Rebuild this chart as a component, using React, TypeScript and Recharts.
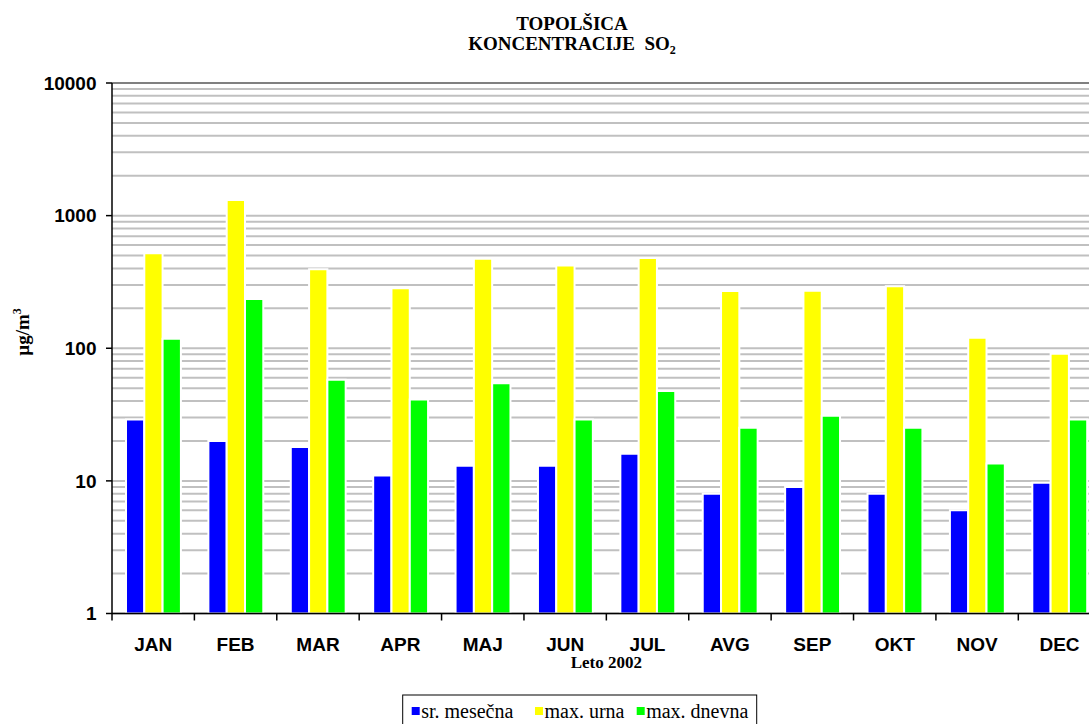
import React from 'react';
import { BarChart, Bar, XAxis, YAxis, CartesianGrid, ReferenceLine } from 'recharts';

const months = ['JAN', 'FEB', 'MAR', 'APR', 'MAJ', 'JUN', 'JUL', 'AVG', 'SEP', 'OKT', 'NOV', 'DEC'];
const srMesecna = [29, 20, 18, 11, 13, 13, 16, 8, 9, 8, 6, 9.7];
const maxUrna = [520, 1310, 394, 283, 472, 420, 480, 270, 271, 293, 120, 91];
const maxDnevna = [118, 235, 58, 41, 54.5, 29, 47.6, 25.2, 31, 25.2, 13.5, 29];

const seriesNames = ['sr. mesečna', 'max. urna', 'max. dnevna'];
const seriesKeys = ['sr', 'urna', 'dnevna'];
const seriesColors = ['#0000ff', '#ffff00', '#00ff00'];

const yTickLabels = ['1', '10', '100', '1000', '10000'];
const gridValues = [
  1, 2, 3, 4, 5, 6, 7, 8, 9,
  10, 20, 30, 40, 50, 60, 70, 80, 90,
  100, 200, 300, 400, 500, 600, 700, 800, 900,
  1000, 2000, 3000, 4000, 5000, 6000, 7000, 8000, 9000,
  10000,
];

const titleLine1 = 'TOPOLŠICA';
const titleLine2 = 'KONCENTRACIJE  SO';
const xAxisTitle = 'Leto 2002';

const data = months.map((m, i) => ({
  month: m,
  sr: srMesecna[i],
  urna: maxUrna[i],
  dnevna: maxDnevna[i],
}));

const CHART_W = 1150;
const CHART_H = 724;
const PLOT_LEFT = 112;
const PLOT_TOP = 83;
const PLOT_BOTTOM = 613.5;
const PLOT_RIGHT = 1100.7;
const X_AXIS_H = 30;
const BAND = (PLOT_RIGHT - PLOT_LEFT) / months.length;

const SANS = '"Liberation Sans", Arial, sans-serif';
const SERIF = '"Liberation Serif", "Times New Roman", serif';

const YTick = (props: any) => {
  const { y, payload } = props;
  const label = yTickLabels.find((l) => Number(l) === payload.value);
  if (!label) return <g />;
  return (
    <g>
      <line x1={PLOT_LEFT - 6} x2={PLOT_LEFT} y1={y} y2={y} stroke="#000" strokeWidth={1.5} />
      <text
        x={PLOT_LEFT - 15.5}
        y={y}
        dy="0.36em"
        textAnchor="end"
        fontFamily={SANS}
        fontWeight="bold"
        fontSize={19}
        fill="#000"
      >
        {label}
      </text>
    </g>
  );
};

const XTick = (props: any) => {
  const { x, payload, index } = props;
  const isLast = index === months.length - 1;
  return (
    <g>
      <line x1={x - BAND / 2} x2={x - BAND / 2} y1={PLOT_BOTTOM} y2={PLOT_BOTTOM + 7} stroke="#000" strokeWidth={1.5} />
      {isLast && (
        <line x1={x + BAND / 2} x2={x + BAND / 2} y1={PLOT_BOTTOM} y2={PLOT_BOTTOM + 7} stroke="#000" strokeWidth={1.5} />
      )}
      <text
        x={x}
        y={PLOT_BOTTOM + 37}
        textAnchor="middle"
        fontFamily={SANS}
        fontWeight="bold"
        fontSize={19}
        fill="#000"
      >
        {payload.value}
      </text>
    </g>
  );
};

const legendSquares = [411.7, 535, 636.7];

export default function App() {
  return (
    <div
      style={{
        position: 'absolute',
        left: 0,
        top: 0,
        width: 1089,
        height: 724,
        overflow: 'hidden',
        background: '#fff',
      }}
    >
      <div style={{ position: 'absolute', left: 0, top: 0, width: CHART_W, height: CHART_H }}>
        <BarChart
          width={CHART_W}
          height={CHART_H}
          data={data}
          margin={{
            top: PLOT_TOP,
            right: CHART_W - PLOT_RIGHT,
            bottom: CHART_H - PLOT_BOTTOM - X_AXIS_H,
            left: 0,
          }}
          barSize={18.3}
          barGap={0}
        >
          <CartesianGrid vertical={false} stroke="#c0c0c0" strokeWidth={2} />
          <ReferenceLine y={10000} stroke="#808080" strokeWidth={2} />
          {seriesKeys.map((k, i) => (
            <Bar
              key={k}
              dataKey={k}
              name={seriesNames[i]}
              fill={seriesColors[i]}
              stroke="#ffffff"
              strokeWidth={2}
              isAnimationActive={false}
            />
          ))}
          <XAxis
            dataKey="month"
            height={X_AXIS_H}
            interval={0}
            tickLine={false}
            axisLine={{ stroke: '#000', strokeWidth: 1.5 }}
            tick={<XTick />}
          />
          <YAxis
            type="number"
            scale="log"
            domain={[1, 10000]}
            allowDataOverflow
            ticks={gridValues}
            interval={0}
            width={PLOT_LEFT}
            tickLine={false}
            axisLine={{ stroke: '#000', strokeWidth: 1.5 }}
            tick={<YTick />}
          />
        </BarChart>
      </div>
      <svg
        width={CHART_W}
        height={CHART_H}
        style={{ position: 'absolute', left: 0, top: 0, pointerEvents: 'none' }}
      >
        <text x={572} y={30} textAnchor="middle" fontFamily={SERIF} fontWeight="bold" fontSize={19} fill="#000">
          {titleLine1}
        </text>
        <text x={572} y={50} textAnchor="middle" fontFamily={SERIF} fontWeight="bold" fontSize={19} fill="#000" xmlSpace="preserve" style={{ whiteSpace: 'pre' }}>
          {titleLine2}
          <tspan fontSize={12} dy={4}>2</tspan>
        </text>
        <text
          transform="translate(29, 332) rotate(-90)"
          textAnchor="middle"
          fontFamily={SERIF}
          fontWeight="bold"
          fontSize={19}
          fill="#000"
        >
          µg/m
          <tspan fontSize={12} dy={-8}>3</tspan>
        </text>
        <text
          x={(PLOT_LEFT + PLOT_RIGHT) / 2}
          y={668}
          textAnchor="middle"
          fontFamily={SERIF}
          fontWeight="bold"
          fontSize={17}
          fill="#000"
        >
          {xAxisTitle}
        </text>
        <rect x={402.7} y={695} width={354} height={40} fill="#fff" stroke="#000" strokeWidth={1} />
        {seriesNames.map((n, i) => (
          <g key={n}>
            <rect x={legendSquares[i]} y={707} width={8} height={8} fill={seriesColors[i]} />
            <text x={legendSquares[i] + 9.5} y={717.5} fontFamily={SERIF} fontSize={20} fill="#000">
              {n}
            </text>
          </g>
        ))}
      </svg>
    </div>
  );
}
